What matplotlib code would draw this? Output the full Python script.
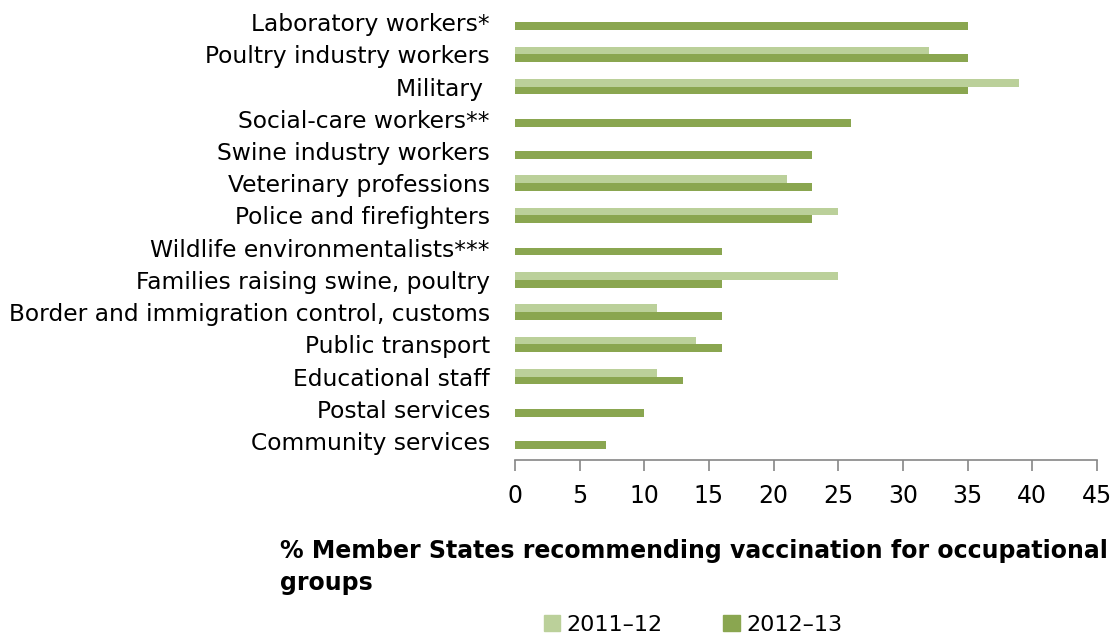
import numpy as np
import matplotlib
matplotlib.use("Agg")
import matplotlib.pyplot as plt
from matplotlib.patches import Patch

plt.rcParams['font.family'] = ['DejaVu Sans']

categories = ['Laboratory workers*', 'Poultry industry workers', 'Military ',
              'Social-care workers**', 'Swine industry workers', 'Veterinary professions',
              'Police and firefighters', 'Wildlife environmentalists***',
              'Families raising swine, poultry', 'Border and immigration control, customs',
              'Public transport', 'Educational staff', 'Postal services', 'Community services']
vals_2011 = [0, 32, 39, 0, 0, 21, 25, 0, 25, 11, 14, 11, 0, 0]
vals_2012 = [35, 35, 35, 26, 23, 23, 23, 16, 16, 16, 16, 13, 10, 7]
series_names = ['2011\u201312', '2012\u201313']

light = '#bbd09a'
dark = '#8aa650'

fig = plt.figure(figsize=(11.17, 6.37), dpi=100)
ax = fig.add_axes([515/1117, 1 - 460/637, (1097-515)/1117, 454/637])

y = np.arange(len(categories))
h = 0.24
ax.barh(y - h/2, vals_2011, height=h, color=light, edgecolor='none')
ax.barh(y + h/2, vals_2012, height=h, color=dark, edgecolor='none')

ax.set_ylim(len(categories) - 0.41, -0.5)
ax.set_xlim(0, 45)
ax.set_xticks(np.arange(0, 46, 5))
ax.set_yticks(y)
ax.set_yticklabels(categories, fontsize=16.8)
ax.tick_params(axis='y', length=0, pad=18)
ax.tick_params(axis='x', length=8, width=1.2, color='#868686', labelsize=17, pad=9)
for s in ['top', 'right', 'left']:
    ax.spines[s].set_visible(False)
ax.spines['bottom'].set_color('#868686')
ax.spines['bottom'].set_linewidth(1.2)

fig.text(280/1117, 1 - 539/637, '% Member States recommending vaccination for occupational\ngroups',
         fontsize=17, fontweight='bold', ha='left', va='top', linespacing=1.42)

handles = [Patch(color=light), Patch(color=dark)]
fig.legend(handles, series_names, loc='center', bbox_to_anchor=(693/1117, 1 - 625/637),
           ncol=2, frameon=False, fontsize=16, handlelength=0.75, handleheight=0.75,
           handletextpad=0.3, columnspacing=2.7)

fig.savefig('out.png', dpi=100)
